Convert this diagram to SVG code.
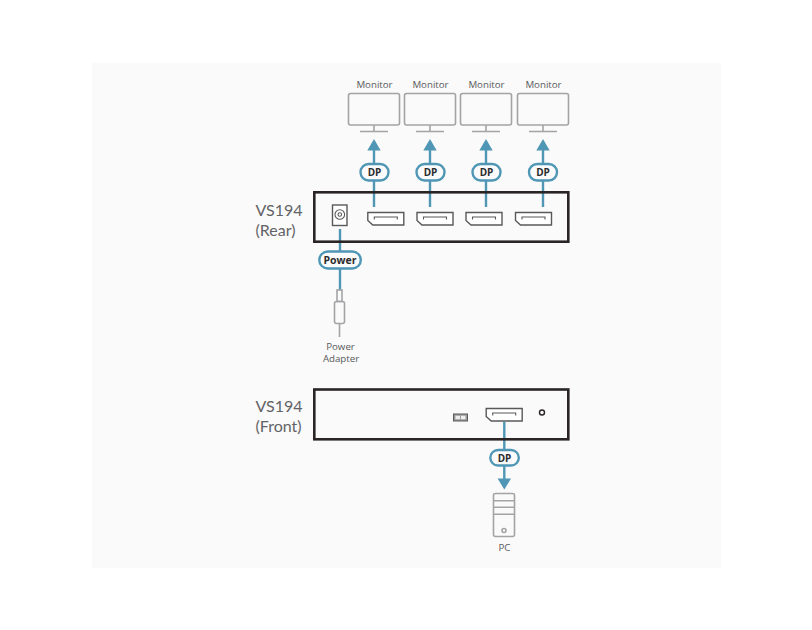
<svg xmlns="http://www.w3.org/2000/svg" width="812" height="630" viewBox="0 0 812 630">
<style>
text{font-family:"Open Sans","Noto Sans","Liberation Sans",sans-serif;text-anchor:middle;fill:#58595b}
.lbl{font-size:9.7px}
.big{font-family:Lato,"Open Sans",sans-serif;font-size:16px;text-anchor:start;fill:#626366}
.tag{font-size:10px;font-weight:700;fill:#2b2b2d}
.box{fill:none;stroke:#2a2425;stroke-width:2.6}
.grey{fill:none;stroke:#a3a4a6;stroke-width:1.6}
.port{fill:#fff;stroke:#58595b;stroke-width:1.4}
.thin{fill:none;stroke:#58595b;stroke-width:1.1}
.wire{fill:none;stroke:#4f97b5;stroke-width:2.4}
.pill{fill:#fbfbfb;stroke:#4f97b5;stroke-width:2.4}
.head{fill:#4f97b5}
</style>
<defs>
<g id="monitor">
<rect class="grey" x="-25.5" y="0" width="51" height="31.5" rx="2"/>
<path class="grey" d="M0 31.5V38M-14 38H14"/>
</g>
<g id="dpport">
<path class="port" d="M0 0H36V12.5H5L0 8Z"/>
<path class="thin" d="M6.5 7V4.5H29.5V7"/>
</g>
</defs>
<rect width="812" height="630" fill="#fff"/>
<rect x="92" y="63" width="629" height="505" fill="#fafafa"/>

<g id="connectors">
<path class="wire" d="M374 150V207M430 150V207M486 150V207M543 150V207M340 229V290M504.3 422V480"/>
<path class="head" d="M374 139L380.7 150.500H367.300Z"/>
<path class="head" d="M430 139L436.700 150.500H423.300Z"/>
<path class="head" d="M486 139L492.700 150.500H479.300Z"/>
<path class="head" d="M543 139L549.700 150.500H536.300Z"/>
<path class="head" d="M504.300 489.500L497.600 478.500H511Z"/>
</g>

<g id="monitor1"><text class="lbl" x="374.500" y="88">Monitor</text><use href="#monitor" x="374" y="93.500"/></g>
<g id="monitor2"><text class="lbl" x="430.500" y="88">Monitor</text><use href="#monitor" x="430" y="93.500"/></g>
<g id="monitor3"><text class="lbl" x="486.500" y="88">Monitor</text><use href="#monitor" x="486" y="93.500"/></g>
<g id="monitor4"><text class="lbl" x="543.500" y="88">Monitor</text><use href="#monitor" x="543" y="93.500"/></g>

<g id="dp-tag1"><rect class="pill" x="360.500" y="164" width="28" height="16.500" rx="8.250"/><text class="tag" x="374.500" y="176">DP</text></g>
<g id="dp-tag2"><rect class="pill" x="416.500" y="164" width="28" height="16.500" rx="8.250"/><text class="tag" x="430.500" y="176">DP</text></g>
<g id="dp-tag3"><rect class="pill" x="472.500" y="164" width="28" height="16.500" rx="8.250"/><text class="tag" x="486.500" y="176">DP</text></g>
<g id="dp-tag4"><rect class="pill" x="529" y="164" width="28" height="16.500" rx="8.250"/><text class="tag" x="543" y="176">DP</text></g>

<g id="vs194-rear">
<text class="big" x="255.500" y="216">VS194</text>
<text class="big" x="255.500" y="235.700">(Rear)</text>
<rect class="box" x="314.300" y="192.300" width="254" height="49.400"/>
<rect class="port" x="332.500" y="205" width="14.500" height="20.500"/>
<circle class="thin" cx="339.800" cy="214.500" r="4.800"/>
<circle class="thin" cx="339.800" cy="214.500" r="1.800"/>
<use href="#dpport" x="367.800" y="212.500"/>
<use href="#dpport" x="417" y="212.500"/>
<use href="#dpport" x="466" y="212.500"/>
<use href="#dpport" x="515.500" y="212.500"/>
</g>

<g id="power-tag"><rect class="pill" x="319.300" y="251.500" width="41.500" height="17" rx="8.500"/><text class="tag" x="340" y="264" style="font-size:10.500px">Power</text></g>

<g id="power-adapter">
<rect class="grey" x="337" y="290" width="5" height="11.500"/>
<rect class="grey" x="334.500" y="301.500" width="10" height="22" rx="2"/>
<path class="grey" d="M339.500 323.500V337"/>
<text class="lbl" x="340.500" y="349.500">Power</text>
<text class="lbl" x="341" y="362">Adapter</text>
</g>

<g id="vs194-front">
<text class="big" x="255.500" y="412.300">VS194</text>
<text class="big" x="255.500" y="431.800">(Front)</text>
<rect class="box" x="314.300" y="389.500" width="254" height="49.800"/>
<rect x="453.500" y="414" width="14" height="7" fill="#9a9b9d" stroke="#58595b" stroke-width="1"/>
<path d="M455.500 415.800H460V419.200H455.500ZM461 415.800H465.500V419.200H461Z" fill="#eeeeee"/>
<use href="#dpport" x="486.200" y="408.500"/>
<circle cx="542" cy="412.500" r="2.500" fill="none" stroke="#2a2425" stroke-width="1.400"/>
</g>

<g id="dp-tag5"><rect class="pill" x="490.300" y="450" width="28.500" height="15.500" rx="7.750"/><text class="tag" x="504.500" y="461.500">DP</text></g>

<g id="pc">
<rect class="grey" x="493.500" y="493.500" width="21" height="43" rx="2"/>
<path class="grey" d="M493.500 500.700H514.500M493.500 507.300H514.500M493.500 514.300H514.500"/>
<circle class="grey" cx="504" cy="530.500" r="2" stroke-width="1.200"/>
<text class="lbl" x="504.500" y="551">PC</text>
</g>
</svg>
